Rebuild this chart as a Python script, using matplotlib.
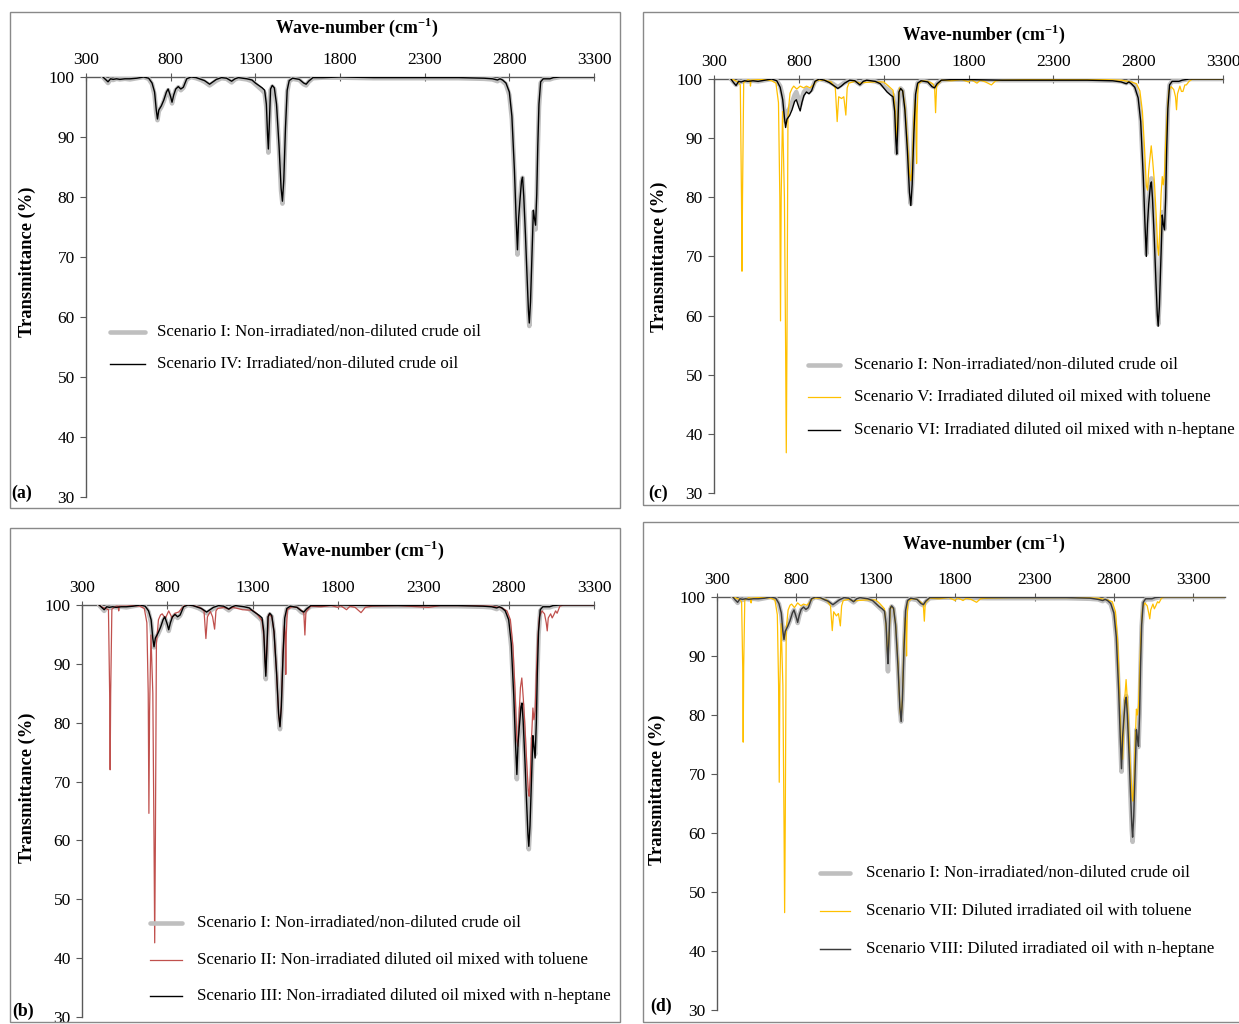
import matplotlib
matplotlib.use("Agg")
import matplotlib.pyplot as plt
from matplotlib.lines import Line2D
from matplotlib.patches import Rectangle

# ---------------- data ----------------
WN_BASE = [400, 415, 430, 445, 460, 480, 500, 530, 560, 600,
           640, 670, 690, 705, 715, 722, 730, 745, 760, 775,
           785, 800, 808, 818, 830, 845, 860, 875, 895, 920,
           950, 980, 1000, 1030, 1050, 1070, 1100, 1130, 1160, 1180,
           1200, 1250, 1280, 1300, 1320, 1340, 1355, 1365, 1372, 1377,
           1383, 1390, 1400, 1412, 1425, 1440, 1452, 1460, 1468, 1478,
           1488, 1500, 1520, 1560, 1585, 1600, 1615, 1640, 1700, 1800,
           2000, 2300, 2500, 2650, 2700, 2730, 2745, 2760, 2780, 2800,
           2815, 2830, 2840, 2848, 2855, 2862, 2872, 2878, 2885, 2895,
           2905, 2913, 2918, 2925, 2935, 2942, 2948, 2955, 2962, 2968,
           2975, 2985, 3000, 3040, 3060, 3100, 3500]

T_SCEN_I = [100, 99.5, 99.0, 99.6, 99.5, 99.7, 99.6, 99.7, 99.6, 99.8,
            100, 99.7, 98.8, 97.0, 94.0, 92.8, 94.3, 95.0, 96.0, 97.3,
            97.8, 96.5, 95.6, 96.8, 97.8, 98.3, 97.8, 98.2, 99.6, 100,
            99.8, 99.5, 99.2, 98.6, 99.0, 99.4, 99.8, 99.7, 99.1, 99.6,
            99.8, 99.6, 99.3, 98.8, 98.3, 97.8, 97.3, 95.0, 90.0, 87.4,
            92.0, 97.8, 98.4, 98.0, 95.0, 88.0, 81.0, 78.9, 82.5, 91.0,
            97.5, 99.3, 99.7, 99.5, 98.8, 98.6, 99.2, 99.8, 99.9, 99.9,
            99.8, 99.8, 99.8, 99.7, 99.6, 99.3, 99.6, 99.3, 98.8, 97.0,
            93.0, 84.0, 76.0, 70.4, 76.0, 79.0, 82.5, 83.2, 80.0, 73.5,
            66.0, 60.5, 58.5, 62.0, 71.0, 77.5, 76.0, 74.6, 80.0, 88.0,
            95.0, 99.0, 99.6, 99.6, 99.8, 100, 100]

T_SCEN_IV = [100, 99.6, 99.2, 99.7, 99.6, 99.7, 99.6, 99.7, 99.7, 99.8,
             100, 99.8, 99.0, 97.5, 94.5, 93.0, 94.5, 95.2, 96.2, 97.5,
             98.0, 96.7, 95.8, 97.0, 98.0, 98.4, 98.0, 98.3, 99.7, 100,
             99.9, 99.6, 99.4, 98.8, 99.2, 99.6, 99.9, 99.8, 99.3, 99.7,
             99.9, 99.7, 99.5, 99.0, 98.6, 98.2, 97.8, 95.5, 90.5, 88.0,
             92.5, 98.0, 98.6, 98.2, 95.5, 88.5, 81.5, 79.3, 82.8, 91.5,
             97.8, 99.4, 99.8, 99.6, 99.0, 98.8, 99.3, 99.9, 99.9, 100,
             99.9, 99.9, 99.9, 99.8, 99.7, 99.5, 99.7, 99.5, 99.0, 97.5,
             93.5, 84.5, 76.5, 71.2, 76.5, 79.2, 82.7, 83.3, 80.2, 73.8,
             66.5, 61.0, 59.0, 62.5, 71.5, 77.8, 76.5, 75.3, 80.5, 88.5,
             95.5, 99.2, 99.7, 99.7, 99.9, 100, 100]

T_SCEN_III = [100, 99.6, 99.2, 99.7, 99.6, 99.7, 99.6, 99.7, 99.7, 99.8,
              100, 99.8, 99.0, 97.5, 94.3, 92.9, 94.4, 95.2, 96.2, 97.5,
              98.0, 96.7, 95.8, 97.0, 98.0, 98.4, 98.0, 98.3, 99.7, 100,
              99.9, 99.6, 99.4, 98.8, 99.2, 99.6, 99.9, 99.8, 99.3, 99.7,
              99.9, 99.7, 99.5, 99.0, 98.6, 98.2, 97.8, 95.5, 90.5, 87.9,
              92.5, 98.0, 98.6, 98.2, 95.5, 88.5, 81.5, 79.3, 82.8, 91.5,
              97.8, 99.4, 99.8, 99.6, 99.0, 98.8, 99.3, 99.9, 99.9, 100,
              99.9, 99.9, 99.9, 99.8, 99.7, 99.5, 99.7, 99.5, 99.0, 97.5,
              93.5, 84.5, 76.5, 71.2, 76.5, 79.2, 82.7, 83.3, 80.2, 73.8,
              66.5, 61.0, 59.0, 62.5, 71.5, 77.8, 76.0, 74.0, 80.0, 88.5,
              95.5, 99.2, 99.7, 99.7, 99.9, 100, 100]

T_SCEN_VI = [100, 99.4, 98.9, 99.6, 99.5, 99.7, 99.6, 99.7, 99.6, 99.8,
             100, 99.7, 98.6, 96.5, 93.5, 91.8, 93.2, 93.8, 94.8, 96.2,
             96.5, 95.2, 94.6, 96.0, 97.2, 97.8, 97.5, 98.0, 99.6, 100,
             99.8, 99.4, 99.0, 98.4, 98.8, 99.3, 99.8, 99.7, 99.0, 99.6,
             99.8, 99.6, 99.2, 98.5, 97.8, 97.3, 97.0, 94.5, 89.5, 87.3,
             91.8, 97.8, 98.4, 98.0, 94.8, 87.8, 80.8, 78.6, 82.2, 90.8,
             97.4, 99.3, 99.7, 99.5, 98.7, 98.5, 99.2, 99.8, 99.9, 99.9,
             99.8, 99.8, 99.8, 99.7, 99.5, 99.2, 99.5, 99.2, 98.6, 96.8,
             92.8, 83.5, 75.5, 70.0, 75.5, 78.8, 82.0, 82.6, 79.5, 73.0,
             65.5, 60.0, 58.2, 61.5, 70.5, 77.0, 75.5, 74.5, 79.8, 88.0,
             95.0, 99.0, 99.6, 99.6, 99.8, 100, 100]

T_SCEN_VIII = [100, 99.5, 99.1, 99.7, 99.6, 99.7, 99.6, 99.7, 99.7, 99.8,
               100, 99.8, 98.9, 97.3, 94.2, 92.8, 94.2, 95.0, 96.0, 97.3,
               97.8, 96.5, 95.7, 96.9, 97.9, 98.3, 97.9, 98.2, 99.7, 100,
               99.9, 99.5, 99.3, 98.7, 99.1, 99.5, 99.9, 99.8, 99.2, 99.7,
               99.9, 99.7, 99.4, 98.9, 98.4, 98.0, 97.6, 95.5, 91.0, 88.7,
               92.8, 98.0, 98.5, 98.1, 95.3, 88.3, 81.3, 78.9, 82.6, 91.3,
               97.7, 99.4, 99.8, 99.6, 98.9, 98.7, 99.3, 99.9, 99.9, 100,
               99.9, 99.9, 99.9, 99.8, 99.6, 99.4, 99.6, 99.4, 98.9, 97.3,
               93.3, 84.3, 76.3, 70.9, 76.3, 79.0, 82.5, 83.0, 80.0, 73.6,
               66.5, 61.3, 59.3, 62.8, 71.5, 77.5, 76.2, 74.7, 80.2, 88.3,
               95.3, 99.1, 99.7, 99.7, 99.9, 100, 100]

WN_TOL = [400, 420, 440, 455, 462, 465, 468, 475, 500, 512,
          515, 518, 560, 600, 640, 665, 680, 688, 692, 696,
          704, 715, 722, 726, 730, 736, 748, 760, 770, 788,
          808, 828, 845, 866, 890, 905, 950, 990, 1015, 1026,
          1035, 1052, 1065, 1077, 1085, 1095, 1130, 1160, 1185, 1240,
          1300, 1325, 1355, 1368, 1377, 1385, 1393, 1412, 1425, 1440,
          1452, 1460, 1468, 1478, 1486, 1491, 1494, 1497, 1503, 1530,
          1560, 1590, 1600, 1606, 1612, 1640, 1700, 1760, 1800, 1815,
          1850, 1870, 1900, 1935, 1960, 2000, 2150, 2330, 2400, 2600,
          2700, 2760, 2790, 2810, 2825, 2838, 2848, 2855, 2862, 2869,
          2877, 2886, 2896, 2906, 2915, 2920, 2927, 2935, 2942, 2948,
          2955, 2962, 2970, 2980, 2995, 3010, 3020, 3026, 3032, 3046,
          3055, 3064, 3075, 3084, 3100, 3120, 3500]

T_SCEN_II = [100, 99.6, 99.4, 99.2, 85.0, 72.0, 85.0, 99.3, 99.8, 99.8,
             99.0, 99.8, 99.8, 99.9, 99.8, 99.4, 97.0, 85.0, 64.6, 82.0,
             94.9, 85.0, 60.0, 42.6, 60.0, 93.5, 97.5, 98.3, 98.5, 97.7,
             99.0, 97.8, 98.6, 98.8, 99.6, 100, 99.9, 99.6, 99.0, 94.3,
             98.0, 98.9, 98.0, 95.9, 99.0, 99.4, 99.6, 99.3, 99.6, 99.2,
             99.1, 98.5, 97.3, 94.0, 88.5, 93.5, 98.4, 98.0, 95.5, 88.5,
             81.5, 79.5, 83.0, 92.0, 96.5, 95.0, 88.2, 95.0, 99.2, 99.7,
             99.6, 99.0, 98.5, 94.9, 98.8, 99.8, 99.7, 99.9, 99.6, 99.9,
             99.2, 99.8, 99.6, 98.7, 99.6, 99.8, 99.9, 99.6, 99.9, 99.9,
             99.8, 99.5, 99.0, 97.5, 93.0, 85.0, 77.0, 76.0, 82.0, 86.0,
             87.6, 84.0, 79.0, 73.0, 68.5, 67.5, 71.0, 78.0, 82.5, 80.5,
             82.0, 88.0, 94.0, 98.0, 99.0, 98.5, 97.0, 95.6, 97.8, 98.5,
             97.8, 98.3, 99.0, 98.6, 99.8, 100, 100]

T_SCEN_V = [100, 99.8, 99.5, 99.0, 80.0, 67.5, 80.0, 99.4, 99.9, 99.8,
            98.8, 99.8, 99.9, 99.9, 99.7, 99.3, 96.0, 80.0, 59.1, 80.0,
            94.5, 80.0, 55.0, 36.8, 55.0, 94.0, 97.6, 98.4, 98.8, 98.3,
            98.8, 98.5, 98.8, 98.5, 99.1, 99.8, 99.8, 99.5, 98.5, 92.8,
            97.0, 96.7, 97.0, 93.9, 98.5, 99.3, 99.6, 99.3, 99.4, 99.5,
            99.5, 98.9, 98.1, 95.0, 89.5, 94.5, 98.5, 98.0, 95.5, 89.5,
            84.0, 82.8, 85.5, 93.0, 96.5, 94.0, 85.7, 94.0, 99.2, 99.7,
            99.6, 99.2, 98.6, 94.3, 98.8, 99.8, 99.7, 99.9, 99.5, 99.9,
            99.3, 99.8, 99.5, 99.0, 99.7, 99.8, 99.9, 99.9, 99.9, 99.9,
            99.8, 99.5, 99.2, 98.0, 94.5, 88.0, 82.0, 81.2, 84.5, 86.5,
            88.7, 86.0, 82.4, 77.0, 71.5, 70.2, 74.0, 80.5, 83.5, 82.1,
            83.8, 89.0, 93.5, 98.0, 98.7, 98.2, 97.0, 94.8, 97.5, 98.8,
            97.9, 97.9, 99.0, 99.0, 99.6, 100, 100]

T_SCEN_VII = [100, 99.8, 99.6, 99.2, 88.0, 75.4, 88.0, 99.5, 99.9, 99.8,
              99.0, 99.8, 99.9, 99.9, 99.8, 99.5, 97.0, 85.0, 68.6, 85.0,
              95.5, 85.0, 62.0, 46.5, 62.0, 94.5, 97.8, 98.6, 98.8, 98.2,
              99.0, 98.5, 98.8, 98.6, 99.3, 99.8, 99.8, 99.5, 98.5, 94.3,
              97.5, 96.8, 97.2, 95.1, 98.5, 99.4, 99.6, 99.3, 99.4, 99.5,
              99.5, 98.9, 98.0, 94.0, 89.0, 94.0, 98.4, 98.0, 95.5, 89.0,
              81.0, 79.2, 83.0, 92.5, 96.5, 95.5, 90.0, 96.0, 99.3, 99.7,
              99.6, 99.0, 98.5, 95.9, 99.0, 99.8, 99.7, 99.9, 99.4, 99.9,
              99.4, 99.8, 99.6, 99.1, 99.7, 99.8, 99.9, 99.9, 99.9, 99.9,
              99.8, 99.5, 99.2, 97.5, 92.0, 82.0, 73.5, 72.5, 78.0, 83.0,
              86.0, 82.0, 76.0, 70.0, 66.0, 65.4, 69.0, 76.0, 81.0, 80.0,
              81.5, 87.0, 93.5, 98.0, 99.0, 98.5, 97.2, 96.3, 97.8, 98.8,
              98.0, 98.5, 99.2, 99.0, 99.8, 100, 100]

X_TICKS = [300, 800, 1300, 1800, 2300, 2800, 3300]
Y_TICKS = [30, 40, 50, 60, 70, 80, 90, 100]

LBL_I = "Scenario I: Non-irradiated/non-diluted crude oil"
LBL_II = "Scenario II: Non-irradiated diluted oil mixed with toluene"
LBL_III = "Scenario III: Non-irradiated diluted oil mixed with n-heptane"
LBL_IV = "Scenario IV: Irradiated/non-diluted crude oil"
LBL_V = "Scenario V: Irradiated diluted oil mixed with toluene"
LBL_VI = "Scenario VI: Irradiated diluted oil mixed with n-heptane"
LBL_VII = "Scenario VII: Diluted irradiated oil with toluene"
LBL_VIII = "Scenario VIII: Diluted irradiated oil with n-heptane"

# ---------------- style ----------------
plt.rcParams['font.family'] = ['Liberation Serif', 'DejaVu Serif']
plt.rcParams['mathtext.fontset'] = 'custom'
plt.rcParams['mathtext.rm'] = 'Liberation Serif'
plt.rcParams['mathtext.bf'] = 'Liberation Serif:bold'

GRAY = '#BFBFBF'
BLACK = '#000000'
RED = '#C0504D'
GOLD = '#FFC000'
AXC = '#595959'
FRAME = '#898989'

W, H = 1239, 1024
fig = plt.figure(figsize=(W / 100, H / 100), dpi=100)

GRAY_STYLE = dict(color=GRAY, lw=3.3, solid_capstyle='round')
BLACK_STYLE = dict(color=BLACK, lw=1.0)
BLACK2_STYLE = dict(color='#3a3a3a', lw=1.05)
RED_STYLE = dict(color=RED, lw=0.9)
GOLD_STYLE = dict(color=GOLD, lw=0.9)

panels = [
    dict(frame=(10, 12, 620, 508), ax=(86, 77, 594, 497), xlim=3300,
         title=(357, 27), ylab=(27, 262), letter=(22, 493, '(a)'),
         series=[(WN_BASE, T_SCEN_I, GRAY_STYLE, LBL_I),
                 (WN_BASE, T_SCEN_IV, BLACK_STYLE, LBL_IV)],
         leg=(110, 145, 157, [332, 364])),
    dict(frame=(10, 528, 620, 1022), ax=(82, 605, 594, 1017), xlim=3300,
         title=(363, 550), ylab=(27, 788), letter=(23, 1011, '(b)'),
         series=[(WN_BASE, T_SCEN_I, GRAY_STYLE, LBL_I),
                 (WN_TOL, T_SCEN_II, RED_STYLE, LBL_II),
                 (WN_BASE, T_SCEN_III, BLACK_STYLE, LBL_III)],
         leg=(150, 182, 197, [923, 960, 996])),
    dict(frame=(643, 12, 1250, 505), ax=(714, 79, 1223, 493), xlim=3300,
         title=(984, 34), ylab=(659, 257), letter=(658, 493, '(c)'),
         series=[(WN_BASE, T_SCEN_I, GRAY_STYLE, LBL_I),
                 (WN_TOL, T_SCEN_V, GOLD_STYLE, LBL_V),
                 (WN_BASE, T_SCEN_VI, BLACK_STYLE, LBL_VI)],
         leg=(808, 840, 854, [365, 397, 430])),
    dict(frame=(643, 522, 1250, 1022), ax=(717, 597, 1225, 1010), xlim=3500,
         title=(984, 543), ylab=(657, 790), letter=(661, 1006, '(d)'),
         series=[(WN_BASE, T_SCEN_I, GRAY_STYLE, LBL_I),
                 (WN_TOL, T_SCEN_VII, GOLD_STYLE, LBL_VII),
                 (WN_BASE, T_SCEN_VIII, BLACK2_STYLE, LBL_VIII)],
         leg=(820, 850, 866, [873, 911, 949])),
]

FS_TICK = 12.5
FS_LEG = 12.2
FS_TITLE = 12.8
FS_YLAB = 13.3

for p in panels:
    fl, ft, fr, fb = p['frame']
    fig.add_artist(Rectangle((fl / W, 1 - fb / H), (fr - fl) / W, (fb - ft) / H,
                             transform=fig.transFigure, fill=False,
                             edgecolor=FRAME, lw=1.0))
    l, t, r, b = p['ax']
    ax = fig.add_axes([l / W, 1 - b / H, (r - l) / W, (b - t) / H])
    ax.set_facecolor('none')
    for xs, ys, st, lab in p['series']:
        ax.plot(xs, ys, **st)
    ax.set_xlim(300, p['xlim'])
    ax.set_ylim(30, 100)
    ax.set_xticks(X_TICKS)
    ax.set_yticks(Y_TICKS)
    ax.xaxis.tick_top()
    for s in ('right', 'bottom'):
        ax.spines[s].set_visible(False)
    ax.spines['left'].set_color(AXC)
    ax.spines['top'].set_color(AXC)
    ax.spines['left'].set_linewidth(1.0)
    ax.spines['top'].set_linewidth(1.0)
    ax.spines['top'].set_zorder(0.5)
    ax.tick_params(axis='x', direction='inout', length=6, width=0.8, color=AXC,
                   pad=3.5, labelsize=FS_TICK)
    ax.tick_params(axis='y', direction='out', length=4, width=0.8, color=AXC,
                   pad=4, labelsize=FS_TICK)

    tx, ty = p['title']
    fig.text(tx / W, 1 - ty / H, r"Wave-number (cm$^{\mathbf{-1}}$)",
             ha='center', va='center', fontsize=FS_TITLE, fontweight='bold')
    yx, yy = p['ylab']
    fig.text(yx / W, 1 - yy / H, "Transmittance (%)", rotation=90,
             ha='center', va='center', fontsize=FS_YLAB, fontweight='bold')
    lx, ly, lt = p['letter']
    fig.text(lx / W, 1 - ly / H, lt, ha='center', va='center',
             fontsize=FS_TITLE, fontweight='bold')

    hx0, hx1, txx, rows = p['leg']
    for (xs, ys, st, lab), yrow in zip(p['series'], rows):
        fig.add_artist(Line2D([hx0 / W, hx1 / W], [1 - yrow / H, 1 - yrow / H],
                              transform=fig.transFigure, **st))
        fig.text(txx / W, 1 - yrow / H, lab, ha='left', va='center',
                 fontsize=FS_LEG)

fig.savefig('out.png', dpi=100)
